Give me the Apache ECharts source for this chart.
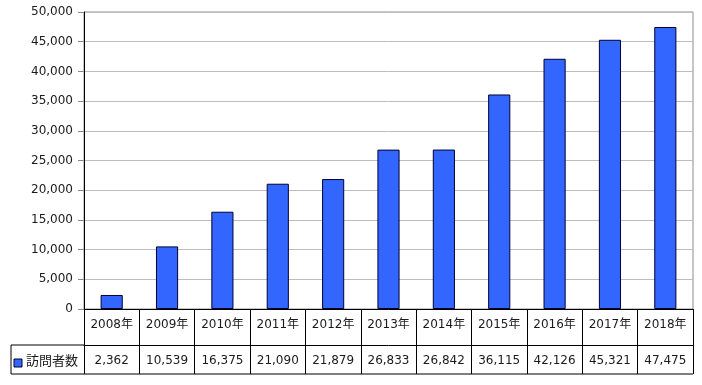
<!DOCTYPE html>
<html><head><meta charset="utf-8">
<script src="https://cdn.jsdelivr.net/npm/echarts@6/dist/echarts.min.js"></script>
<style>html,body{margin:0;padding:0;background:#fff}#c{width:702px;height:385px}</style>
</head><body><div id="c"></div>
<script>
const categories = ['2008年','2009年','2010年','2011年','2012年','2013年','2014年','2015年','2016年','2017年','2018年'];
const visitors = [2362,10539,16375,21090,21879,26833,26842,36115,42126,45321,47475];
const seriesName = '訪問者数';
const yTicks = {min:0, max:50000, interval:5000};

const fmt = v => v.toLocaleString('en-US');
const FONT = '"DejaVu Sans", "Noto Sans CJK JP", sans-serif';
const TXT = '#1a1a1a';

const chart = echarts.init(document.getElementById('c'), null, {renderer:'canvas'});
chart.setOption({
  animation:false,
  backgroundColor:'#fff',
  grid:{left:84, right:9, top:12, bottom:76, show:true, borderColor:'#8c8c8c', borderWidth:1, backgroundColor:'#fff'},
  xAxis:[{
    type:'category', data:categories, position:'bottom', boundaryGap:true,
    axisLine:{lineStyle:{color:'#000', width:1}},
    axisTick:{show:true, length:36, interval:0, lineStyle:{color:'#000'}},
    axisLabel:{interval:0, margin:10, fontSize:12, fontFamily:FONT, color:TXT}
  },{
    type:'category', data:visitors.map(fmt), position:'bottom', offset:36, boundaryGap:true,
    axisLine:{lineStyle:{color:'#000', width:1}},
    axisTick:{show:true, length:29, interval:0, lineStyle:{color:'#000'}},
    axisLabel:{interval:0, margin:10, fontSize:12, fontFamily:FONT, color:TXT}
  }],
  yAxis:{
    type:'value', min:yTicks.min, max:yTicks.max, interval:yTicks.interval,
    axisLine:{show:true, lineStyle:{color:'#000'}},
    axisTick:{show:true, length:6, lineStyle:{color:'#8c8c8c'}},
    splitLine:{lineStyle:{color:'#bdbdbd'}},
    axisLabel:{formatter:v=>fmt(v), margin:11, fontSize:12, fontFamily:FONT, color:TXT}
  },
  series:[{
    name:seriesName, type:'bar', data:visitors, barWidth:'40%', xAxisIndex:0,
    itemStyle:{color:'#3366ff', borderColor:'#000033', borderWidth:1}
  }],
  graphic:[
    {type:'line', shape:{x1:11, y1:345, x2:84, y2:345}, style:{stroke:'#000', lineWidth:1}},
    {type:'line', shape:{x1:11, y1:374, x2:693, y2:374}, style:{stroke:'#000', lineWidth:1}},
    {type:'line', shape:{x1:11, y1:345, x2:11, y2:374}, style:{stroke:'#000', lineWidth:1}},
    {type:'rect', shape:{x:14, y:359, width:8, height:8}, style:{fill:'#3366ff', stroke:'#000033', lineWidth:1}},
    {type:'text', x:26, y:362, style:{text:seriesName, font:'13px '+FONT, fill:TXT, verticalAlign:'middle'}}
  ]
});
</script></body></html>
